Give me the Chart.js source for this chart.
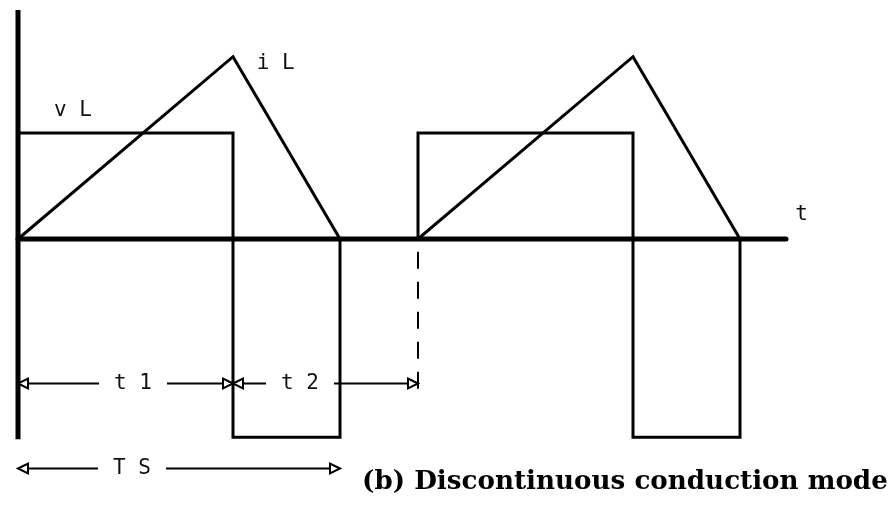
<!DOCTYPE html>
<html>
<head>
<meta charset="utf-8">
<script src="https://cdn.jsdelivr.net/npm/chart.js@4"></script>
<style>
  html, body { margin: 0; padding: 0; background: #fff; }
  #wrap { width: 896px; height: 515px; }
</style>
</head>
<body>
<div id="wrap"><canvas id="waves"></canvas></div>
<script>
// time is in units of the switching period Ts, amplitudes are relative to the vL on-level
const vlTime  = [0, 0, 0.5375, 0.5375, 0.805, 0.805, 1.0, 1.0, 1.5375, 1.5375, 1.805, 1.805];
const vlValue = [0, 1, 1, -1.87, -1.87, 0, 0, 1, 1, -1.87, -1.87, 0];
const ilTime  = [0, 0.5375, 0.805, 1.0, 1.5375, 1.805];
const ilValue = [0, 1.72, 0, 0, 1.72, 0];

// interval markers under the waveforms
const spanStart  = [0, 0.5375, 0];
const spanEnd    = [0.5375, 1.0, 0.805];
const spanLabels = ['t 1', 't 2', 'T S'];
const spanTextAt = [0.2875, 0.705, 0.285];

const toPoints = (xs, ys) => xs.map((t, i) => ({ x: t, y: ys[i] }));

const PLOT_FONT = '21px "DejaVu Sans Mono", monospace';

const annotate = {
  id: 'annotate',
  afterDatasetsDraw(chart) {
    const { ctx, scales: { x, y } } = chart;
    ctx.save();
    ctx.strokeStyle = '#000';
    ctx.fillStyle = '#111';

    // signal names
    ctx.font = PLOT_FONT;
    ctx.textBaseline = 'alphabetic';
    ctx.textAlign = 'left';
    ctx.fillText('v L', x.getPixelForValue(0.09), y.getPixelForValue(1.16));
    ctx.fillText('i L', x.getPixelForValue(0.597), y.getPixelForValue(1.6));
    ctx.fillText('t', x.getPixelForValue(1.943), y.getPixelForValue(0.18));

    const arrowHead = (px, py, dir) => {
      ctx.beginPath();
      ctx.moveTo(px, py);
      ctx.lineTo(px - dir * 10, py - 5);
      ctx.lineTo(px - dir * 10, py + 5);
      ctx.closePath();
      ctx.fillStyle = '#fff';
      ctx.fill();
      ctx.stroke();
    };

    // dimension lines: t1 and t2 share a row, Ts sits below
    const rows = [-1.36, -1.36, -2.16];
    ctx.lineWidth = 2;
    ctx.textAlign = 'center';
    ctx.textBaseline = 'middle';
    spanLabels.forEach((label, i) => {
      const py = Math.round(y.getPixelForValue(rows[i])) + 0.5;
      const x0 = x.getPixelForValue(spanStart[i]);
      const x1 = x.getPixelForValue(spanEnd[i]);
      const xc = x.getPixelForValue(spanTextAt[i]);
      const w = ctx.measureText(label).width;
      ctx.beginPath();
      ctx.moveTo(x0 + 8, py);
      ctx.lineTo(xc - w / 2 - 15, py);
      ctx.moveTo(xc + w / 2 + 15, py);
      ctx.lineTo(x1 - 8, py);
      ctx.stroke();
      arrowHead(x0, py, -1);
      arrowHead(x1, py, 1);
      ctx.fillStyle = '#111';
      ctx.fillText(label, xc, py);
    });

    // caption
    const caption = '(b) Discontinuous conduction mode';
    let size = 24;
    ctx.font = `bold ${size}px "DejaVu Serif", serif`;
    size = size * 526 / ctx.measureText(caption).width;
    ctx.font = `bold ${size}px "DejaVu Serif", serif`;
    ctx.textAlign = 'left';
    ctx.textBaseline = 'alphabetic';
    ctx.fillStyle = '#000';
    ctx.fillText(caption, 362, 489);
    ctx.restore();
  }
};

new Chart(document.getElementById('waves'), {
  type: 'scatter',
  data: {
    datasets: [
      {
        label: 'axis t',
        data: [{ x: 0, y: 0 }, { x: 1.92, y: 0 }],
        showLine: true, borderColor: '#000', borderWidth: 5, borderCapStyle: 'round', clip: false
      },
      {
        label: 'axis v',
        data: [{ x: 0, y: 2.16 }, { x: 0, y: -1.89 }],
        showLine: true, borderColor: '#000', borderWidth: 5, borderCapStyle: 'butt', clip: false
      },
      {
        label: 'period mark',
        data: [{ x: 1.0, y: -0.12 }, { x: 1.0, y: -1.47 }],
        showLine: true, borderColor: '#000', borderWidth: 2, borderDash: [17, 13], clip: false
      },
      {
        label: 'vL',
        data: toPoints(vlTime, vlValue),
        showLine: true, borderColor: '#000', borderWidth: 3, borderJoinStyle: 'miter', clip: false
      },
      {
        label: 'iL',
        data: toPoints(ilTime, ilValue),
        showLine: true, borderColor: '#000', borderWidth: 3, borderJoinStyle: 'miter', clip: false
      }
    ]
  },
  options: {
    responsive: true,
    maintainAspectRatio: false,
    animation: false,
    layout: { padding: 0 },
    plugins: { legend: { display: false }, tooltip: { enabled: false } },
    elements: { point: { radius: 0, hoverRadius: 0 }, line: { tension: 0 } },
    scales: {
      x: { type: 'linear', min: -0.045, max: 2.195, display: false },
      y: { type: 'linear', min: -2.604, max: 2.255, display: false }
    }
  },
  plugins: [annotate]
});
</script>
</body>
</html>
